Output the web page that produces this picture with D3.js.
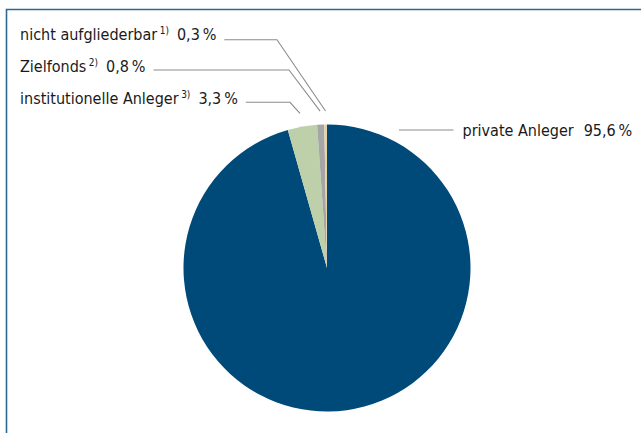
<!DOCTYPE html>
<html><head><meta charset="utf-8">
<script src="https://cdn.jsdelivr.net/npm/d3@7"></script>
<style>
html,body{margin:0;padding:0;background:#fff;}
svg{display:block;}
text{font-family:"DejaVu Sans Condensed","DejaVu Sans",sans-serif;font-stretch:condensed;fill:#1a1a1a;}
</style></head>
<body>
<script>
// Data
const categories = ["private Anleger", "institutionelle Anleger", "Zielfonds", "nicht aufgliederbar"];
const values = [95.6, 3.3, 0.8, 0.3];
const valueLabels = ["95,6", "3,3", "0,8", "0,3"];
const footnotes = ["", "3)", "2)", "1)"];
const colors = ["#004a7a", "#bdd0a9", "#a6a6a6", "#e8d2a6"];

const W = 641, H = 433;
const cx = 327, cy = 268, R = 143.5;

const svg = d3.select("body").append("svg").attr("width", W).attr("height", H);

// frame
svg.append("path").attr("d", `M6.5,${H} V9.5 H${W}`)
  .attr("fill", "none").attr("stroke", "#2d6894").attr("stroke-width", 1.6);

const data = categories.map((c, i) => ({ name: c, value: values[i], label: valueLabels[i], fn: footnotes[i], color: colors[i] }));

const pie = d3.pie().value(d => d.value).sort(null).startAngle(0).endAngle(2 * Math.PI);
const arcs = pie(data);
const arc = d3.arc().innerRadius(0).outerRadius(R);
const outer = d3.arc().innerRadius(157).outerRadius(157);

const g = svg.append("g").attr("transform", `translate(${cx},${cy})`);
g.selectAll("path").data(arcs).enter().append("path")
  .attr("d", arc).attr("fill", d => d.data.color);

// label layout (text position, elbow)
const layout = [
  { x: 462.5, y: 136, lineY: 130, lineStart: 399, lineEnd: 453.5, side: "right" },
  { x: 20, y: 104, lineY: 102.3, elbowX: 290 },
  { x: 20, y: 72, lineY: 70, elbowX: 289 },
  { x: 20, y: 39.5, lineY: 39.7, elbowX: 277 }
];

const fs = 16;
arcs.forEach((a, i) => {
  const L = layout[i];
  const t = svg.append("text").attr("x", L.x).attr("y", L.y).style("font-size", fs + "px");
  t.append("tspan").text(a.data.name);
  if (a.data.fn) {
    t.append("tspan").attr("dx", 2.5).attr("dy", -6).style("font-size", "10px").text(a.data.fn);
    t.append("tspan").attr("dx", 8).attr("dy", 6).text(a.data.label + "\u2009%");
  } else {
    t.append("tspan").attr("dx", 10).text(a.data.label + "\u2009%");
  }
  const bb = t.node().getBBox();
  let pts;
  if (L.side === "right") {
    pts = [[L.lineStart, L.lineY], [L.lineEnd, L.lineY]];
  } else {
    const c = outer.centroid(a);
    pts = [[bb.x + bb.width + 8, L.lineY], [L.elbowX, L.lineY], [cx + c[0], cy + c[1]]];
  }
  svg.append("path").attr("d", d3.line()(pts))
    .attr("fill", "none").attr("stroke", "#8c8c8c").attr("stroke-width", 1.1);
});
</script>
</body></html>
